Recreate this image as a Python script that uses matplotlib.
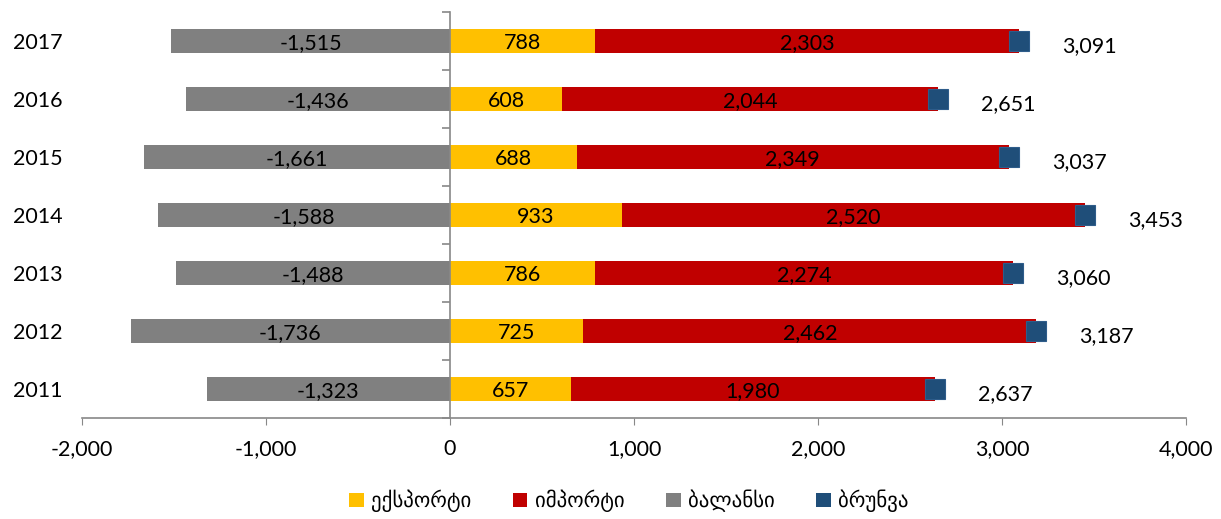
import matplotlib.pyplot as plt
from matplotlib.patches import Patch
from matplotlib.ticker import FuncFormatter

years = ['2011', '2012', '2013', '2014', '2015', '2016', '2017']
exports = [657, 725, 786, 933, 688, 608, 788]
imports = [1980, 2462, 2274, 2520, 2349, 2044, 2303]
balance = [-1323, -1736, -1488, -1588, -1661, -1436, -1515]
turnover = [2637, 3187, 3060, 3453, 3037, 2651, 3091]

labels = ['ექსპორტი', 'იმპორტი', 'ბალანსი', 'ბრუნვა']
colors = ['#FFC000', '#C00000', '#808080', '#1F4E79']

plt.rcParams['font.family'] = ['Lato', 'DejaVu Sans']
fs = 15.5

fig = plt.figure(figsize=(12.21, 5.19), dpi=100)
ax = fig.add_axes([0.0672, 0.1946, 0.9041, 0.7823])

y = list(range(len(years)))
h = 0.4

# bars
ax.barh(y, exports, height=h, color=colors[0], zorder=2)
ax.barh(y, imports, height=h, left=exports, color=colors[1], zorder=2)
ax.barh(y, balance, height=h, color=colors[2], zorder=2)
ax.plot(turnover, y, linestyle='None', marker='s', markersize=14,
        color=colors[3], markeredgecolor='#2E5C8A', markeredgewidth=0.8, zorder=4)

fmt = lambda v: '{:,.0f}'.format(v)

# bar labels (Excel puts them a touch below centre)
dy = -0.03
for i in y:
    ax.text(exports[i] / 2, i + dy, fmt(exports[i]), ha='center', va='center', fontsize=fs, zorder=5)
    ax.text(exports[i] + imports[i] / 2, i + dy, fmt(imports[i]), ha='center', va='center', fontsize=fs, zorder=5)
    ax.text(balance[i] / 2, i + dy, fmt(balance[i]), ha='center', va='center', fontsize=fs, zorder=5)
    ax.annotate(fmt(turnover[i]), (turnover[i], i), xytext=(31, -4), textcoords='offset points',
                ha='left', va='center', fontsize=fs, zorder=5)

ax.set_xlim(-2000, 4000)
ax.set_ylim(-0.5, 6.5)
ax.set_xticks([-2000, -1000, 0, 1000, 2000, 3000, 4000])
ax.xaxis.set_major_formatter(FuncFormatter(lambda v, p: fmt(v)))
ax.tick_params(axis='x', direction='out', length=5, color='#888888', labelsize=fs, pad=10)

ax.set_yticks(y)
ax.set_yticklabels(years)
ax.tick_params(axis='y', length=0, labelsize=fs, pad=14)

for s in ['top', 'right', 'left']:
    ax.spines[s].set_visible(False)
ax.spines['bottom'].set_color('#888888')
ax.spines['bottom'].set_linewidth(1.2)

# category axis at zero
sec = ax.secondary_yaxis(1 / 3)
sec.set_yticks([b - 0.5 for b in range(len(years) + 1)])
sec.set_yticklabels([])
sec.tick_params(direction='out', length=6, color='#888888', width=1.2)
sec.spines['left'].set_color('#888888')
sec.spines['left'].set_linewidth(1.2)
sec.set_zorder(3)

handles = [Patch(facecolor=c, edgecolor='none') for c in colors]
fig.legend(handles, labels, loc='center', bbox_to_anchor=(0.515, 0.035), ncol=4,
           frameon=False, fontsize=15, handlelength=0.7, handleheight=0.7,
           handletextpad=0.35, columnspacing=2.0)

fig.savefig('out.png', dpi=100)
